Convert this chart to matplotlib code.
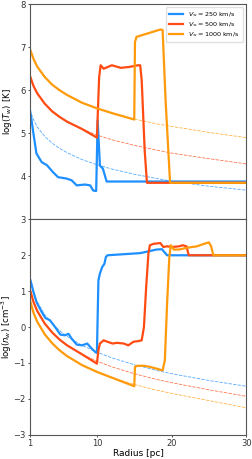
import matplotlib
matplotlib.use('Agg')
import matplotlib.pyplot as plt
import numpy as np

# radii for the thin dashed reference curves
r_ref = [1, 1.5, 2, 3, 4, 5, 6, 8, 10, 12, 15, 18, 20, 25, 30]
# log T reference (dashed)
T_ref_250 = [5.55, 5.32, 5.15, 4.93, 4.77, 4.65, 4.55, 4.39, 4.27, 4.17, 4.05, 3.95, 3.89, 3.77, 3.68]
T_ref_500 = [6.35, 6.10, 5.93, 5.69, 5.51, 5.38, 5.27, 5.10, 4.96, 4.85, 4.72, 4.61, 4.54, 4.41, 4.29]
T_ref_1000 = [6.97, 6.73, 6.55, 6.31, 6.13, 6.00, 5.89, 5.71, 5.58, 5.47, 5.33, 5.22, 5.16, 5.02, 4.90]
# log n reference (dashed)
n_ref_250 = [1.30, 0.95, 0.70, 0.35, 0.10, -0.10, -0.26, -0.51, -0.70, -0.86, -1.05, -1.21, -1.30, -1.49, -1.65]
n_ref_500 = [1.05, 0.70, 0.45, 0.10, -0.15, -0.35, -0.51, -0.76, -0.95, -1.11, -1.30, -1.46, -1.55, -1.75, -1.93]
n_ref_1000 = [0.75, 0.40, 0.15, -0.20, -0.45, -0.65, -0.81, -1.06, -1.25, -1.41, -1.60, -1.76, -1.85, -2.05, -2.25]

# solid simulation curves, temperature
rT_250 = [1, 1.2, 1.5, 1.9, 2.6, 3.3, 4.1, 4.8, 5.9, 6.6, 7.3, 8.4, 9.1, 9.5, 9.9, 10.1, 10.4, 10.8, 11.3, 30]
T_250 = [5.57, 5.35, 4.99, 4.53, 4.33, 4.26, 4.10, 3.98, 3.95, 3.91, 3.79, 3.81, 3.79, 3.67, 3.66, 5.30, 4.25, 4.18, 3.88, 3.88]
rT_500 = [1, 1.5, 2, 3, 4, 5, 6, 8, 10, 10.3, 10.5, 10.9, 12.0, 13.2, 14.3, 15.5, 15.8, 16.0, 16.4, 16.7, 30]
T_500 = [6.35, 6.10, 5.93, 5.69, 5.51, 5.38, 5.27, 5.10, 4.90, 6.31, 6.58, 6.50, 6.58, 6.52, 6.54, 6.58, 6.58, 6.23, 4.60, 3.85, 3.85]
rT_1000 = [1, 1.5, 2, 3, 4, 5, 6, 8, 10, 12, 15, 15.1, 15.3, 18.5, 18.8, 19.2, 19.8, 30]
T_1000 = [6.97, 6.73, 6.55, 6.31, 6.13, 6.00, 5.89, 5.71, 5.58, 5.47, 5.32, 7.12, 7.24, 7.41, 7.40, 5.77, 3.85, 3.85]

# solid simulation curves, density
rn_250 = [1, 1.1, 1.5, 1.9, 2.6, 3.1, 3.7, 4.4, 5.1, 5.7, 6.2, 6.6, 7.3, 8.0, 8.7, 9.3, 9.8, 10.0,
          10.2, 10.4, 10.7, 11.0, 11.2, 11.4, 15.8, 18.0, 18.7, 19.2, 19.4, 30]
n_250 = [1.35, 1.30, 0.98, 0.70, 0.42, 0.25, 0.19, 0.00, -0.21, -0.23, -0.19, -0.32, -0.49, -0.51, -0.46, -0.60, -0.70, -0.72,
         1.30, 1.49, 1.67, 1.76, 1.95, 2.00, 2.06, 2.16, 2.17, 2.05, 2.00, 2.00]
rn_500 = [1, 1.5, 2, 3, 4, 5, 6, 8, 10, 10.2, 10.4, 10.9, 11.4, 12.1, 12.7, 13.6, 14.2, 14.9, 15.6, 16.0,
          16.3, 16.6, 16.9, 17.1, 17.6, 18.5, 18.9, 19.4, 20.1, 21.0, 21.5, 22.0, 22.3, 30]
n_500 = [1.07, 0.70, 0.45, 0.10, -0.15, -0.35, -0.51, -0.76, -1.02, -0.65, -0.46, -0.37, -0.41, -0.46, -0.44, -0.46, -0.51, -0.41, -0.39, -0.37,
         0.00, 1.12, 2.05, 2.28, 2.32, 2.34, 2.23, 2.25, 2.23, 2.25, 2.28, 2.25, 2.00, 2.00]
rn_1000 = [1, 1.5, 2, 3, 4, 5, 6, 8, 10, 12, 15, 15.1, 15.4, 16.3, 17.1, 18.0, 18.8, 19.1, 19.4, 19.7, 19.9,
           20.3, 21.0, 22.1, 23.4, 24.5, 25.0, 25.3, 25.6, 30]
n_1000 = [0.77, 0.40, 0.15, -0.20, -0.45, -0.65, -0.81, -1.06, -1.25, -1.41, -1.65, -1.11, -1.08, -1.08, -1.11, -1.16, -1.21, -0.93, 0.65, 1.95, 2.28,
          2.16, 2.16, 2.21, 2.25, 2.33, 2.36, 2.25, 2.00, 2.00]

labels = [r'$V_\infty = 250$ km/s', r'$V_\infty = 500$ km/s', r'$V_\infty = 1000$ km/s']
colors = ['#1e8fff', '#ff4b12', '#ff9a0a']

plt.rcParams['font.size'] = 6
plt.rcParams['axes.edgecolor'] = '#555555'
plt.rcParams['xtick.color'] = '#333333'
plt.rcParams['ytick.color'] = '#333333'
plt.rcParams['xtick.major.size'] = 1.5
plt.rcParams['ytick.major.size'] = 1.5

fig, (ax1, ax2) = plt.subplots(2, 1, figsize=(2.52, 4.59), dpi=100, sharex=True)
fig.subplots_adjust(left=0.118, right=0.977, top=0.991, bottom=0.053, hspace=0)

T_refs = [T_ref_250, T_ref_500, T_ref_1000]
T_r = [rT_250, rT_500, rT_1000]
T_vals = [T_250, T_500, T_1000]
for i in range(3):
    ax1.plot(r_ref, T_refs[i], '--', color=colors[i], lw=0.6, alpha=0.75, dashes=(4, 1.5))
for i in range(3):
    ax1.plot(T_r[i], T_vals[i], '-', color=colors[i], lw=1.6, label=labels[i])

n_refs = [n_ref_250, n_ref_500, n_ref_1000]
n_r = [rn_250, rn_500, rn_1000]
n_vals = [n_250, n_500, n_1000]
for i in range(3):
    ax2.plot(r_ref, n_refs[i], '--', color=colors[i], lw=0.6, alpha=0.75, dashes=(4, 1.5))
for i in range(3):
    ax2.plot(n_r[i], n_vals[i], '-', color=colors[i], lw=1.6)

ax1.set_ylim(3, 8)
ax1.set_yticks([3, 4, 5, 6, 7, 8])
ax2.set_ylim(-3, 3)
ax2.set_yticks([-3, -2, -1, 0, 1, 2])
ax2.set_xlim(1, 30)
ax2.set_xticks([1, 10, 20, 30])

ax1.set_ylabel(r'$\log(T_w)$ [K]', fontsize=6.2)
ax2.set_ylabel(r'$\log(n_w)$ [cm$^{-3}$]', fontsize=6.2)
ax1.yaxis.set_label_coords(-0.072, 0.5)
ax2.yaxis.set_label_coords(-0.072, 0.5)
ax2.set_xlabel('Radius [pc]', fontsize=6.5, labelpad=1)

for ax in (ax1, ax2):
    ax.tick_params(labelsize=6, pad=1.5, width=0.6)
    for s in ax.spines.values():
        s.set_linewidth(0.8)

ax1.legend(loc='upper right', fontsize=4.6, handlelength=2.2, borderpad=0.5,
           labelspacing=0.3, framealpha=0.9, edgecolor='#dddddd')

fig.savefig('out.png', dpi=100)
